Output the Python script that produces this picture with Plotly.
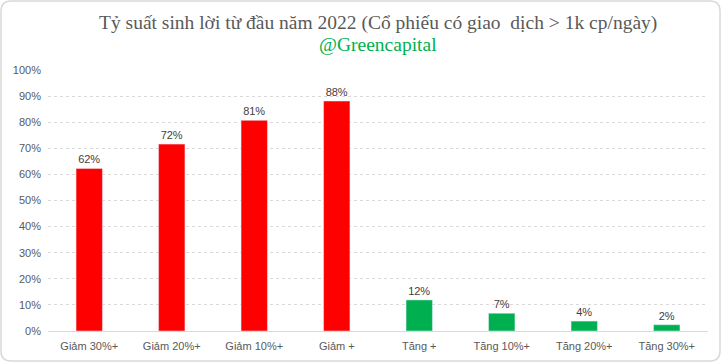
import plotly.graph_objects as go

categories = ["Giảm 30%+", "Giảm 20%+", "Giảm 10%+", "Giảm +", "Tăng +", "Tăng 10%+", "Tăng 20%+", "Tăng 30%+"]
values = [0.623, 0.716, 0.807, 0.881, 0.119, 0.068, 0.038, 0.024]
colors = ["#FF0000"] * 4 + ["#00B050"] * 4
y_ticks = [i / 10 for i in range(11)]
y_tick_labels = [f"{i*10}%" for i in range(11)]

fig = go.Figure(go.Bar(
    x=categories, y=values, marker_color=colors,
    text=[f"{round(v*100)}%" for v in values], textposition="outside",
    textfont=dict(family="Liberation Sans", size=11, color="#404040"),
    cliponaxis=False,
))

W, H, r = 722, 363, 10
ML, MR, MT, MB = 48, 14, 70, 32
pw, ph = W - ML - MR, H - MT - MB

fig.update_layout(
    width=W, height=H,
    margin=dict(l=ML, r=MR, t=MT, b=MB),
    paper_bgcolor="white", plot_bgcolor="white",
    bargap=0.68, showlegend=False,
    xaxis=dict(showline=True, linecolor="#D9D9D9", linewidth=1, ticks="",
               ticklabelstandoff=5,
               tickfont=dict(family="Liberation Sans", size=11, color="#595959")),
    yaxis=dict(range=[0, 1.0], tickvals=y_ticks, ticktext=y_tick_labels,
               showgrid=True, gridcolor="#D9D9D9", griddash="3px,3px", gridwidth=1,
               zeroline=False, showline=False, ticklabelstandoff=6,
               tickfont=dict(family="Liberation Sans", size=11, color="#595959")),
    annotations=[
        dict(text="Tỷ suất sinh lời từ đầu năm 2022 (Cổ phiếu có giao  dịch > 1k cp/ngày)",
             x=0.5, y=1 + (MT - 23) / ph, yanchor="middle", xref="paper", yref="paper",
             showarrow=False,
             font=dict(family="Liberation Serif", size=19.5, color="#595959")),
        dict(text="@Greencapital", x=0.5, y=1 + (MT - 44) / ph, yanchor="middle",
             xref="paper", yref="paper", showarrow=False,
             font=dict(family="Liberation Serif", size=19.5, color="#00B050")),
    ],
)

# rounded border in pixel-mapped paper coords
def px(x): return (x - ML) / pw
def py(y): return (H - MB - y) / ph
x0, y0, x1, y1 = 1, 1, W - 2, H - 2
path = (f"M {px(x0+r)},{py(y0)} L {px(x1-r)},{py(y0)} Q {px(x1)},{py(y0)} {px(x1)},{py(y0+r)} "
        f"L {px(x1)},{py(y1-r)} Q {px(x1)},{py(y1)} {px(x1-r)},{py(y1)} "
        f"L {px(x0+r)},{py(y1)} Q {px(x0)},{py(y1)} {px(x0)},{py(y1-r)} "
        f"L {px(x0)},{py(y0+r)} Q {px(x0)},{py(y0)} {px(x0+r)},{py(y0)} Z")
fig.add_shape(type="path", path=path, xref="paper", yref="paper",
              line=dict(color="#D9D9D9", width=1.5), layer="below")

fig.write_html("out.html", config={"displayModeBar": False},
               post_script="document.body.style.margin='0';")
